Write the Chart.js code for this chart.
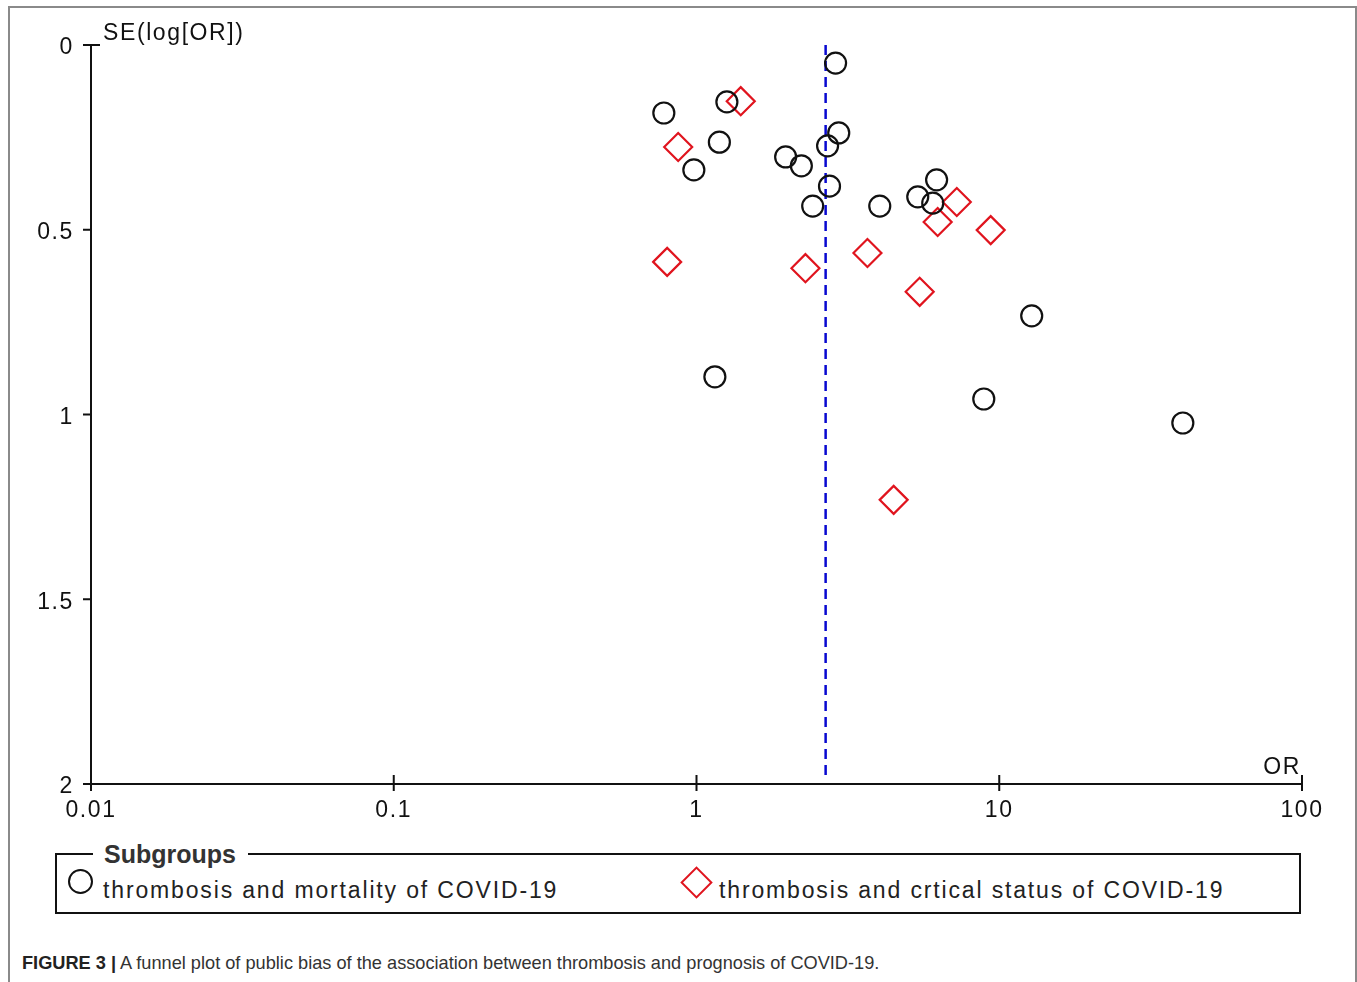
<!DOCTYPE html>
<html>
<head>
<meta charset="utf-8">
<title>Funnel plot</title>
<script src="https://cdn.jsdelivr.net/npm/chart.js@4/dist/chart.umd.min.js"></script>
<style>
    html, body { margin: 0; padding: 0; background: #fff; overflow: hidden; }
    body { width: 1357px; height: 982px; position: relative; font-family: "Liberation Sans", Arial, sans-serif; }
    .frame { position: absolute; left: 8px; top: 6px; width: 1345px; height: 1000px; border: 2px solid #8a8a8a; border-bottom: none; }
    #chartBox { position: absolute; left: 0; top: 0; width: 1357px; height: 845px; }
    .legend { position: absolute; left: 55px; top: 853px; width: 1242px; height: 57px; border: 2px solid #111; }
    .legend-title { position: absolute; left: 36px; top: -15px; padding: 0 12px 0 11px; background: #fff; font-weight: bold; font-size: 25px; color: #333; }
    .item { position: absolute; top: 21px; font-size: 23px; letter-spacing: 1.85px; color: #222; white-space: nowrap; line-height: 28px; }
    .circle { position: absolute; width: 21px; height: 21px; border: 2px solid #111; border-radius: 50%; }
    .diamond { position: absolute; width: 19px; height: 19px; border: 2px solid #e0141e; transform: rotate(45deg); }
    .caption { position: absolute; left: 22px; top: 953px; font-size: 18.2px; color: #333; white-space: nowrap; }
</style>
</head>
<body>
<div class="frame"></div>
<div id="chartBox"><canvas id="funnelChart" width="1357" height="845"></canvas></div>

<div class="legend">
    <span class="legend-title">Subgroups</span>
    <span class="circle" style="left: 11px; top: 14px;"></span>
    <span class="item" style="left: 46px;">thrombosis and mortality of COVID-19</span>
    <span class="diamond" style="left: 628px; top: 16px;"></span>
    <span class="item" style="left: 662px;">thrombosis and crtical status of COVID-19</span>
</div>

<div class="caption"><b style="color:#222">FIGURE 3 |</b> A funnel plot of public bias of the association between thrombosis and prognosis of COVID-19.</div>

<script>
// Mortality subgroup (circles): odds ratio and SE(log[OR])
const mortalityOR = [2.88, 0.78, 1.26, 1.19, 0.98, 1.97, 2.22, 2.95, 2.71, 2.75, 2.42, 4.03, 6.21, 5.38, 6.03, 12.8, 1.15, 8.89, 40.4];
const mortalitySE = [0.049, 0.184, 0.154, 0.263, 0.338, 0.303, 0.327, 0.238, 0.273, 0.382, 0.436, 0.436, 0.365, 0.411, 0.428, 0.733, 0.898, 0.958, 1.023];

// Critical status subgroup (diamonds)
const criticalOR = [1.40, 0.87, 0.80, 2.29, 3.67, 7.24, 6.26, 9.37, 5.46, 4.48];
const criticalSE = [0.152, 0.276, 0.587, 0.604, 0.563, 0.425, 0.479, 0.501, 0.668, 1.231];

// Pooled estimate (dashed line)
const pooledOR = 2.67;
const pooledLineSE = [0, 1.99];

// Axis ticks
const xTickValues = [0.01, 0.1, 1, 10, 100];
const xTickLabels = ['0.01', '0.1', '1', '10', '100'];
const yTickValues = [0, 0.5, 1, 1.5, 2];
const yTickLabels = ['0', '0.5', '1', '1.5', '2'];

const axisFont = { family: 'Liberation Sans', size: 23 };
const spacing = '1.6px';

function toPoints(xs, ys) {
    return xs.map((x, i) => ({ x: x, y: ys[i] }));
}

// Axis lines, crossing tick marks, and axis titles
const axesPlugin = {
    id: 'axesPlugin',
    beforeLayout(chart) {
        chart.ctx.letterSpacing = spacing;
    },
    beforeDraw(chart) {
        chart.ctx.letterSpacing = spacing;
    },
    afterDraw(chart) {
        const ctx = chart.ctx;
        const xs = chart.scales.x;
        const ys = chart.scales.y;
        const area = chart.chartArea;
        ctx.save();
        ctx.strokeStyle = '#111';
        ctx.lineWidth = 2;
        ctx.beginPath();
        ctx.moveTo(area.left, ys.getPixelForValue(0));
        ctx.lineTo(area.left, area.bottom);
        ctx.lineTo(xs.getPixelForValue(100), area.bottom);
        // y ticks cross the axis
        yTickValues.forEach(v => {
            const py = ys.getPixelForValue(v);
            ctx.moveTo(area.left - 8, py);
            ctx.lineTo(area.left + (v === 0 ? 9 : 1), py);
        });
        // x ticks cross the axis
        xTickValues.forEach(v => {
            const px = xs.getPixelForValue(v);
            ctx.moveTo(px, area.bottom - 9);
            ctx.lineTo(px, area.bottom + 7);
        });
        ctx.stroke();

        ctx.fillStyle = '#111';
        ctx.font = '23px "Liberation Sans"';
        ctx.letterSpacing = spacing;
        ctx.textBaseline = 'alphabetic';
        ctx.textAlign = 'left';
        ctx.fillText('SE(log[OR])', area.left + 12, 40);
        ctx.textAlign = 'right';
        ctx.fillText('OR', xs.getPixelForValue(100) - 1, area.bottom - 10);
        ctx.restore();
    }
};

new Chart(document.getElementById('funnelChart'), {
    type: 'scatter',
    data: {
        datasets: [
            {
                type: 'line',
                data: toPoints([pooledOR, pooledOR], pooledLineSE),
                borderColor: '#0808d0',
                borderWidth: 2.5,
                borderDash: [10, 6],
                pointRadius: 0,
                fill: false,
                order: 2
            },
            {
                data: toPoints(mortalityOR, mortalitySE),
                pointStyle: 'circle',
                pointRadius: 10.5,
                pointBorderWidth: 2.2,
                borderColor: '#111',
                backgroundColor: 'rgba(0,0,0,0)',
                order: 1
            },
            {
                data: toPoints(criticalOR, criticalSE),
                pointStyle: 'rectRot',
                pointRadius: 14,
                pointBorderWidth: 2.2,
                borderColor: '#e0141e',
                backgroundColor: 'rgba(0,0,0,0)',
                order: 1
            }
        ]
    },
    options: {
        responsive: false,
        animation: false,
        events: [],
        layout: { padding: { left: 0, top: 45, right: 55, bottom: 0 } },
        plugins: {
            legend: { display: false },
            tooltip: { enabled: false }
        },
        scales: {
            x: {
                type: 'logarithmic',
                min: 0.01,
                max: 100,
                grid: { display: false },
                border: { display: false },
                afterBuildTicks(scale) {
                    scale.ticks = xTickValues.map(v => ({ value: v }));
                },
                afterFit(scale) {
                    scale.height = 61;
                },
                ticks: {
                    autoSkip: false,
                    maxRotation: 0,
                    padding: 5,
                    color: '#111',
                    font: axisFont,
                    callback: (v) => xTickLabels[xTickValues.indexOf(v)]
                }
            },
            y: {
                type: 'linear',
                reverse: true,
                min: 0,
                max: 2,
                grid: { display: false },
                border: { display: false },
                afterBuildTicks(scale) {
                    scale.ticks = yTickValues.map(v => ({ value: v }));
                },
                afterFit(scale) {
                    scale.width = 91;
                },
                ticks: {
                    padding: 9,
                    labelOffset: 3,
                    color: '#111',
                    font: axisFont,
                    callback: (v) => yTickLabels[yTickValues.indexOf(v)]
                }
            }
        }
    },
    plugins: [axesPlugin]
});
</script>
</body>
</html>
